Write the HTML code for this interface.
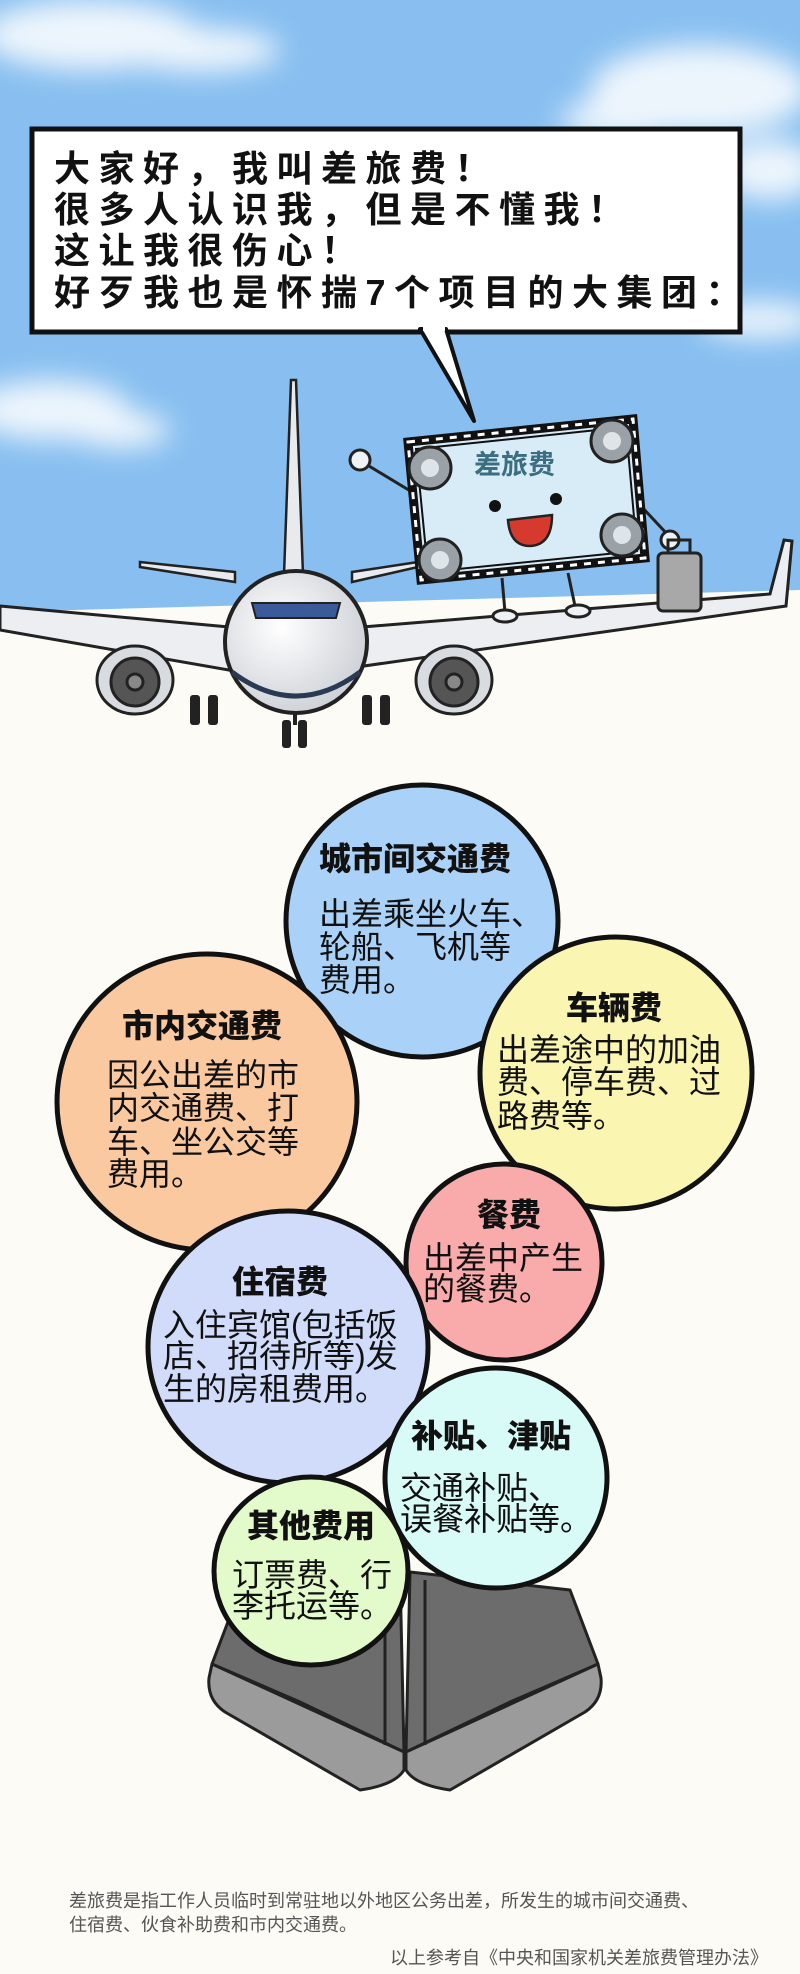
<!DOCTYPE html>
<html><head><meta charset="utf-8"><style>
html,body{margin:0;padding:0;background:#fcfbf5;}
svg{display:block}
text{font-family:"Liberation Sans","Noto Sans CJK SC",sans-serif;}
</style></head><body>
<svg width="800" height="1974" viewBox="0 0 800 1974" xmlns="http://www.w3.org/2000/svg">
<defs>
<filter id="blur" x="-50%" y="-50%" width="200%" height="200%"><feGaussianBlur stdDeviation="14"/></filter>
<radialGradient id="fus" cx="0.4" cy="0.4" r="0.7"><stop offset="0" stop-color="#ffffff"/><stop offset="1" stop-color="#c8ccd2"/></radialGradient>
</defs>
<rect x="0" y="0" width="800" height="1974" fill="#fcfbf5"/>
<path d="M0 0H800V590L0 612Z" fill="#88bff0"/>
<g filter="url(#blur)" fill="#ffffff" opacity="0.85">
<ellipse cx="90" cy="35" rx="110" ry="35"/><ellipse cx="200" cy="50" rx="80" ry="22"/>
<ellipse cx="700" cy="90" rx="110" ry="45"/><ellipse cx="620" cy="120" rx="60" ry="20"/><ellipse cx="770" cy="170" rx="50" ry="30"/>
<ellipse cx="50" cy="410" rx="80" ry="30"/><ellipse cx="120" cy="430" rx="50" ry="18"/>
<ellipse cx="760" cy="320" rx="60" ry="18"/>
</g>
<rect x="32" y="129" width="708" height="203" fill="#fff" stroke="#111" stroke-width="5"/>
<polygon points="420,329 446,329 474,421" fill="#fff" stroke="#111" stroke-width="4" stroke-linejoin="round"/>
<rect x="423" y="326" width="22" height="5" fill="#fff"/>
<g font-size="36" font-weight="bold" fill="#111" letter-spacing="8.5">
<text x="54" y="181">大家好，我叫差旅费！</text>
<text x="54" y="222">很多人认识我，但是不懂我！</text>
<text x="54" y="263">这让我很伤心！</text>
<text x="54" y="305">好歹我也是怀揣7个项目的大集团：</text>
</g>
<polygon points="291,380 296,380 303,575 284,575" fill="#e8eaee" stroke="#222" stroke-width="2.5"/>
<polygon points="140,562 235,572 235,582 140,567" fill="#e8eaee" stroke="#222" stroke-width="2.5"/>
<polygon points="418,562 352,572 352,582 418,567" fill="#e8eaee" stroke="#222" stroke-width="2.5"/>
<polygon points="0,606 240,628 240,672 0,630" fill="#eceef1" stroke="#222" stroke-width="3"/>
<polygon points="350,628 770,594 784,540 792,541 786,606 350,668" fill="#eceef1" stroke="#222" stroke-width="3"/>
<g stroke="#222" stroke-width="3">
<ellipse cx="135" cy="680" rx="38" ry="34" fill="#d8dbe0"/><circle cx="135" cy="682" r="24" fill="#555"/><circle cx="135" cy="682" r="8" fill="#888"/>
<ellipse cx="454" cy="680" rx="38" ry="34" fill="#d8dbe0"/><circle cx="454" cy="682" r="24" fill="#555"/><circle cx="454" cy="682" r="8" fill="#888"/>
</g>
<g fill="#222">
<rect x="190" y="695" width="10" height="30" rx="3"/><rect x="208" y="695" width="10" height="30" rx="3"/>
<rect x="362" y="695" width="10" height="30" rx="3"/><rect x="380" y="695" width="10" height="30" rx="3"/>
<rect x="282" y="720" width="9" height="28" rx="3"/><rect x="298" y="720" width="9" height="28" rx="3"/>
<rect x="293" y="705" width="4" height="20"/>
</g>
<circle cx="296" cy="642" r="71" fill="url(#fus)" stroke="#222" stroke-width="4"/>
<path d="M232 672 Q296 720 360 672" fill="none" stroke="#2a3a55" stroke-width="5"/>
<polygon points="252,603 340,603 336,618 256,618" fill="#3a5a9a" stroke="#222" stroke-width="2"/>
<g stroke="#222" stroke-width="3" fill="#eef2f5">
<line x1="412" y1="492" x2="364" y2="463"/><circle cx="360" cy="460" r="10"/>
<line x1="640" y1="505" x2="668" y2="535"/><circle cx="670" cy="540" r="9"/>
<line x1="502" y1="578" x2="505" y2="612"/><ellipse cx="505" cy="616" rx="12" ry="6"/>
<line x1="568" y1="573" x2="575" y2="606"/><ellipse cx="578" cy="611" rx="12" ry="6"/>
</g>
<rect x="658" y="553" width="43" height="58" rx="5" fill="#a8a8a8" stroke="#222" stroke-width="3"/>
<path d="M668 553 V540 H690 V553" fill="none" stroke="#222" stroke-width="3"/>
<polygon points="408,442 633,419 645,558 421,580" fill="#d8ecf8" stroke="#111" stroke-width="9"/>
<polygon points="408,442 633,419 645,558 421,580" fill="none" stroke="#fff" stroke-width="3" stroke-dasharray="7 7"/>
<polygon points="416,449 626,427 637,551 428,572" fill="#d8ecf8" stroke="#111" stroke-width="2"/>
<g stroke="#222" stroke-width="3" fill="#9aa2a8">
<circle cx="430" cy="468" r="21"/><circle cx="612" cy="441" r="21"/>
<circle cx="440" cy="560" r="21"/><circle cx="622" cy="535" r="21"/>
</g>
<g fill="#dfe4e8"><circle cx="430" cy="468" r="9"/><circle cx="612" cy="441" r="9"/><circle cx="440" cy="560" r="9"/><circle cx="622" cy="535" r="9"/></g>
<text x="474" y="474" font-size="27" fill="#3a6e80" font-weight="bold">差旅费</text>
<circle cx="495" cy="506" r="6" fill="#111"/><circle cx="556" cy="499" r="6" fill="#111"/>
<path d="M508 520 L552 515 Q552 545 530 546 Q510 546 508 520Z" fill="#d63a2f" stroke="#222" stroke-width="2.5"/>
<g stroke="#222" stroke-width="3" stroke-linejoin="round">
<path d="M240 1590 L400 1572 L404 1752 L300 1702 L212 1664 Z" fill="#6c6c6c"/>
<path d="M212 1664 L404 1752 L404 1770 Q395 1785 360 1790 L225 1712 Q207 1700 209 1678 Z" fill="#9b9b9b"/>
<path d="M570 1590 L410 1572 L406 1752 L510 1702 L598 1664 Z" fill="#6c6c6c"/>
<path d="M598 1664 L406 1752 L406 1770 Q415 1785 450 1790 L585 1712 Q603 1700 601 1678 Z" fill="#9b9b9b"/>
<line x1="385" y1="1580" x2="385" y2="1745"/><line x1="425" y1="1580" x2="425" y2="1745"/>
</g>
<g stroke="#111" stroke-width="5">
<ellipse cx="422" cy="921" rx="136" ry="136" fill="#aad2f8"/>
<ellipse cx="616" cy="1073" rx="136" ry="136" fill="#fbf5b2"/>
<ellipse cx="207" cy="1102" rx="150" ry="148" fill="#fbc9a0"/>
<ellipse cx="504" cy="1262" rx="98" ry="98" fill="#f9aaaa"/>
<ellipse cx="288" cy="1347" rx="140" ry="136" fill="#d1dcfb"/>
<ellipse cx="496" cy="1478" rx="111" ry="110" fill="#d8fbf8"/>
<ellipse cx="311" cy="1571" rx="97" ry="94" fill="#e3fbca"/>
</g>
<g font-size="32" font-weight="900" fill="#111">
<text x="319" y="870">城市间交通费</text>
<text x="566" y="1019">车辆费</text>
<text x="122" y="1037">市内交通费</text>
<text x="477" y="1226">餐费</text>
<text x="232" y="1293">住宿费</text>
<text x="411" y="1447">补贴、津贴</text>
<text x="247" y="1537">其他费用</text>
</g>
<g font-size="32" fill="#111">
<text x="319" y="925">出差乘坐火车、</text><text x="319" y="958">轮船、飞机等</text><text x="319" y="991">费用。</text>
<text x="497" y="1061">出差途中的加油</text><text x="497" y="1093">费、停车费、过</text><text x="497" y="1127">路费等。</text>
<text x="107" y="1086">因公出差的市</text><text x="107" y="1119">内交通费、打</text><text x="107" y="1153">车、坐公交等</text><text x="107" y="1185">费用。</text>
<text x="423" y="1269">出差中产生</text><text x="423" y="1300">的餐费。</text>
<text x="163" y="1336">入住宾馆(包括饭</text><text x="163" y="1367">店、招待所等)发</text><text x="163" y="1400">生的房租费用。</text>
<text x="400" y="1499">交通补贴、</text><text x="400" y="1530">误餐补贴等。</text>
<text x="232" y="1586">订票费、行</text><text x="232" y="1617">李托运等。</text>
</g>
<g font-size="18" fill="#555">
<text x="69" y="1907">差旅费是指工作人员临时到常驻地以外地区公务出差，所发生的城市间交通费、</text>
<text x="69" y="1931">住宿费、伙食补助费和市内交通费。</text>
<text x="768" y="1964" text-anchor="end">以上参考自《中央和国家机关差旅费管理办法》</text>
</g>
</svg>
</body></html>
